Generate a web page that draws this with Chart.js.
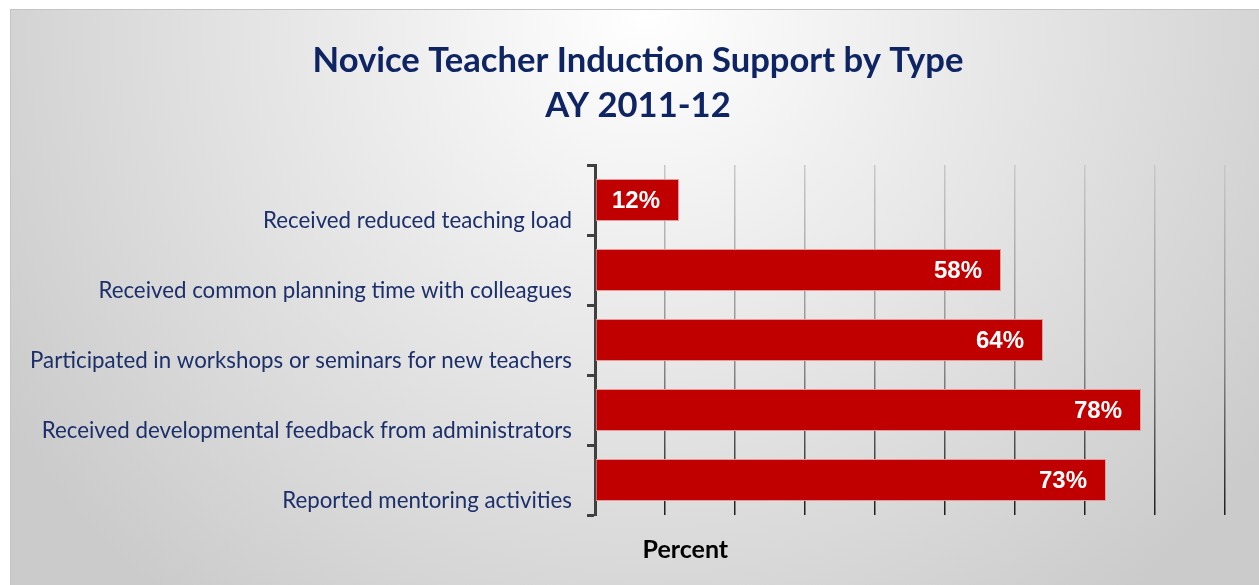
<!DOCTYPE html>
<html>
<head>
<meta charset="utf-8">
<script src="https://cdn.jsdelivr.net/npm/chart.js@4/dist/chart.umd.min.js"></script>
<style>
    html, body { margin: 0; padding: 0; background: #fff; overflow: hidden; }
    #frame {
        position: absolute; left: 10px; top: 9px; width: 1270px; height: 600px;
        border: 1px solid #c4c4c4;
        background: radial-gradient(circle 760px at 50% 0%, #ffffff 0%, #cbcbcb 100%);
    }
    #wrap { position: absolute; left: 0; top: 0; width: 1259px; height: 585px; }
</style>
</head>
<body>
<div id="frame"></div>
<div id="wrap"><canvas id="chart"></canvas></div>
<script>
const categories = [
    'Received reduced teaching load',
    'Received common planning time with colleagues',
    'Participated in workshops or seminars for new teachers',
    'Received developmental feedback from administrators',
    'Reported mentoring activities'
];
const percentValues = [12, 58, 64, 78, 73];
const titleLines = ['Novice Teacher Induction Support by Type', 'AY 2011-12'];
const axisTitle = 'Percent';

const navy = '#0f2563';
const barRed = '#c00000';

// bar value labels, right aligned inside the bar end
const valueLabels = {
    id: 'valueLabels',
    afterDatasetsDraw(chart) {
        const { ctx } = chart;
        const meta = chart.getDatasetMeta(0);
        ctx.save();
        ctx.font = 'bold 24px "Liberation Sans", Arial, sans-serif';
        ctx.fillStyle = '#ffffff';
        ctx.textAlign = 'right';
        ctx.textBaseline = 'middle';
        meta.data.forEach((bar, i) => {
            ctx.fillText(percentValues[i] + '%', bar.x - 19, bar.y + 1);
        });
        ctx.restore();
    }
};

// "Percent" sits left of centre under the plot, like the original
const percentTitle = {
    id: 'percentTitle',
    afterDraw(chart) {
        const { ctx, scales: { x }, chartArea } = chart;
        ctx.save();
        ctx.font = 'bold 25px Lato, sans-serif';
        ctx.fillStyle = '#000000';
        ctx.textAlign = 'center';
        ctx.textBaseline = 'middle';
        ctx.fillText(axisTitle, x.getPixelForValue(12.9), chartArea.bottom + 35);
        ctx.restore();
    }
};

// left padding only shifts the title; let the long category labels use that space
const widenLabelArea = {
    id: 'widenLabelArea',
    afterLayout(chart) {
        chart.scales.y.left = 0;
    }
};

let gridGradient = null;
function gridColor(context) {
    const area = context.chart.chartArea;
    if (!area) return '#aaaaaa';
    if (!gridGradient) {
        gridGradient = context.chart.ctx.createLinearGradient(0, area.top, 0, area.bottom);
        gridGradient.addColorStop(0, '#c8c8c8');
        gridGradient.addColorStop(0.55, '#8c8c8c');
        gridGradient.addColorStop(1, '#1e1e1e');
    }
    return gridGradient;
}

new Chart(document.getElementById('chart'), {
    type: 'bar',
    data: {
        labels: categories,
        datasets: [{
            data: percentValues,
            backgroundColor: barRed,
            borderColor: '#e89a9a',
            borderWidth: 1,
            borderSkipped: false,
            categoryPercentage: 0.6,
            barPercentage: 1
        }]
    },
    options: {
        indexAxis: 'y',
        responsive: true,
        maintainAspectRatio: false,
        animation: false,
        layout: { padding: { left: 51, right: 34, top: 0, bottom: 70 } },
        plugins: {
            legend: { display: false },
            tooltip: { enabled: false },
            title: {
                display: true,
                text: titleLines,
                color: navy,
                font: { family: 'Lato, sans-serif', size: 34.6, weight: 'bold', lineHeight: 45 / 34.6 },
                padding: { top: 38, bottom: 37 }
            }
        },
        scales: {
            x: {
                min: 0,
                max: 90,
                ticks: { display: false, stepSize: 10 },
                grid: { color: gridColor, lineWidth: 1.5, drawTicks: false },
                border: { display: false }
            },
            y: {
                ticks: {
                    color: '#1b2f6b',
                    font: { family: 'Lato, sans-serif', size: 22.3 },
                    padding: 15,
                    labelOffset: 21
                },
                grid: {
                    drawOnChartArea: false,
                    tickLength: 8,
                    tickWidth: 3,
                    tickColor: '#404040'
                },
                border: { display: true, color: '#404040', width: 3 },
                afterFit(scale) { scale.width = 595 - 51; }
            }
        }
    },
    plugins: [valueLabels, percentTitle, widenLabelArea]
});
</script>
</body>
</html>
